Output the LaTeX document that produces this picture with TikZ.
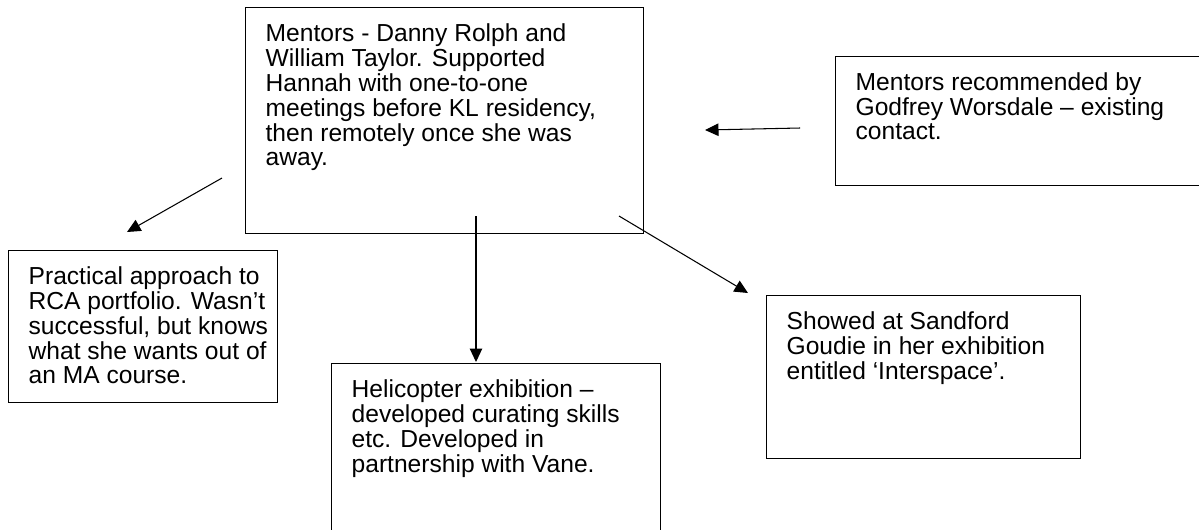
\documentclass[tikz,border=0pt]{standalone}
\usepackage{fontspec}
\setmainfont{Liberation Sans}
\usetikzlibrary{arrows.meta}
\newcommand{\notetext}[3]{\parbox[t][#2][t]{#1}{\begin{tabular}[t]{@{}l@{}}#3\end{tabular}}}

\begin{document}
\begin{tikzpicture}[x=0.02cm, y=-0.02cm,
  note/.style={draw, line width=0.75pt, anchor=north west, inner xsep=0.4cm, inner ysep=0.32cm, font=\fontsize{14}{13.7}\selectfont},
  link/.style={-{Triangle[length=0.27cm, width=0.25cm]}, line width=0.6pt}
]
\path[use as bounding box, clip] (0,0) rectangle (1199,529);
\node[note] (mentors) at (245,7) {\notetext{7.16cm}{3.88cm}{Mentors - Danny Rolph and\\William Taylor. Supported\\Hannah with one-to-one\\meetings before KL residency,\\then remotely once she was\\away.}};
\node[note] (godfrey) at (835,56) {\notetext{6.7cm}{1.94cm}{Mentors recommended by\\Godfrey Worsdale – existing\\contact.}};
\node[note] (practical) at (8,250) {\notetext{4.58cm}{2.40cm}{Practical approach to\\RCA portfolio. Wasn’t\\successful, but knows\\what she wants out of\\an MA course.}};
\node[note] (helicopter) at (331,363) {\notetext{5.78cm}{2.90cm}{Helicopter exhibition –\\developed curating skills\\etc. Developed in\\partnership with Vane.}};
\node[note] (sandford) at (766,295) {\notetext{5.48cm}{2.62cm}{Showed at Sandford\\Goudie in her exhibition\\entitled ‘Interspace’.}};
% arrow ends
\coordinate (godfrey-out) at (800,128);
\coordinate (mentors-in) at (705,130);
\coordinate (practical-from) at (222,178);
\coordinate (practical-to) at (127,232);
\coordinate (helicopter-from) at (476,216);
\coordinate (helicopter-to) at (476,362);
\coordinate (sandford-from) at (619,216);
\coordinate (sandford-to) at (748,293);
\draw[link] (godfrey-out) -- (mentors-in);
\draw[link] (practical-from) -- (practical-to);
\draw[link] (helicopter-from) -- (helicopter-to);
\draw[link] (sandford-from) -- (sandford-to);
\end{tikzpicture}
\end{document}
